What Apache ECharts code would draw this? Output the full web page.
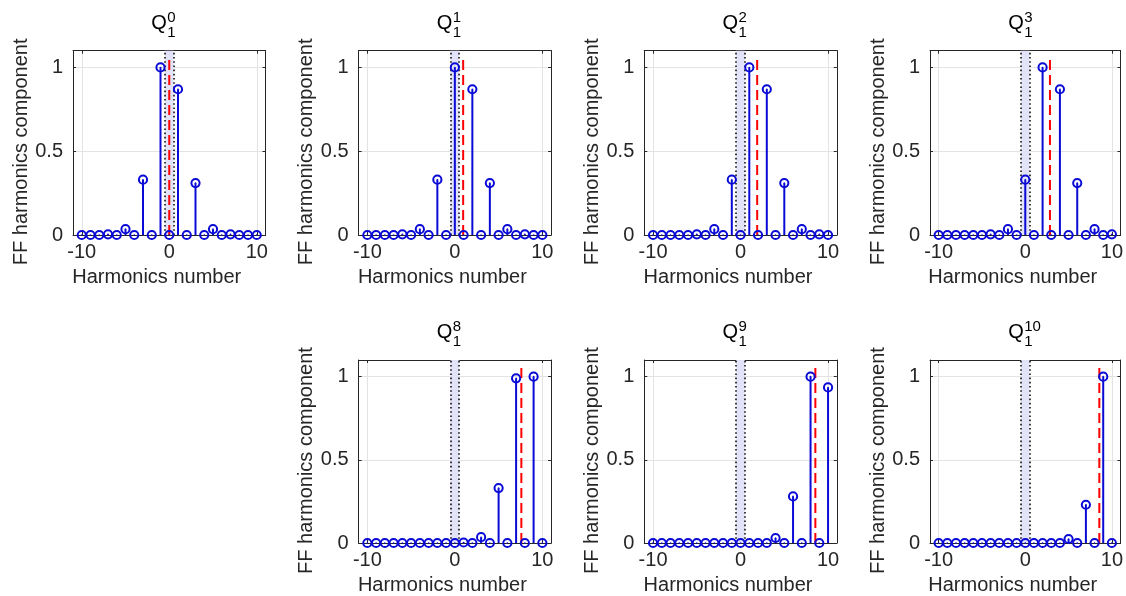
<!DOCTYPE html>
<html>
<head>
<meta charset="utf-8">
<script src="https://cdn.jsdelivr.net/npm/echarts@6/dist/echarts.min.js"></script>
<style>
html,body{margin:0;padding:0;background:#fff;}
#chart{width:1126px;height:596px;}
</style>
</head>
<body>
<div id="chart"></div>
<script>
// ---------- data ----------
const harmonics = [-10,-9,-8,-7,-6,-5,-4,-3,-2,-1,0,1,2,3,4,5,6,7,8,9,10];
const Q0  = [0,0,0,0.004,0,0.035,0,0.33,0,1.0,0,0.87,0,0.31,0,0.035,0,0.004,0,0,0];
const Q1  = [0,0,0,0,0.004,0,0.035,0,0.33,0,1.0,0,0.87,0,0.31,0,0.035,0,0.004,0,0];
const Q2  = [0,0,0,0,0,0.004,0,0.035,0,0.33,0,1.0,0,0.87,0,0.31,0,0.035,0,0.004,0];
const Q3  = [0,0,0,0,0,0,0.004,0,0.035,0,0.33,0,1.0,0,0.87,0,0.31,0,0.035,0,0.004];
const Q8  = [0,0,0,0,0,0,0,0,0,0,0,0.003,0,0.035,0,0.33,0,0.99,0,1.0,0];
const Q9  = [0,0,0,0,0,0,0,0,0,0,0,0,0,0,0.03,0,0.28,0,1.0,0,0.935];
const Q10 = [0,0,0,0,0,0,0,0,0,0,0,0,0,0,0,0.024,0,0.23,0,1.0,0];
const panelValues = [Q0, Q1, Q2, Q3, Q8, Q9, Q10];
const superscripts = ['0','1','2','3','8','9','10'];
const redLineX = [0, 0.95, 1.9, 2.85, 7.6, 8.55, 8.55];
const redLineTop = 1.06;
const bandEdges = [-0.5, 0.5];
const titleBase = 'Q';
const titleSub = '1';
const xName = 'Harmonics number';
const yName = 'FF harmonics component';

// ---------- layout ----------
const colLeft = [73, 358.6, 644.3, 930];
const rowTop = [50.7, 360];
const gridW = 192.5, gridH = 184.3;
const panelPos = [[0,0],[1,0],[2,0],[3,0],[1,1],[2,1],[3,1]];

const FONT = "'Liberation Sans', Arial, Helvetica, sans-serif";
const AX = '#262626';
const BLUE = '#0a0ad6';

const grid = [], xAxis = [], yAxis = [], series = [], graphic = [];

panelPos.forEach((pos, i) => {
  const left = colLeft[pos[0]], top = rowTop[pos[1]];
  grid.push({left: left, top: top, width: gridW, height: gridH, containLabel: false});
  const xBase = {
    gridIndex: i, type: 'value', min: -11, max: 11, splitNumber: 2,
    minInterval: 10, maxInterval: 10,
    axisLine: {show: true, onZero: false, lineStyle: {color: AX, width: 1}},
    axisTick: {show: true, inside: true, length: 3, lineStyle: {color: AX}}
  };
  xAxis.push(Object.assign({}, xBase, {
    position: 'bottom',
    axisLabel: {show: true, margin: 7, color: AX, fontSize: 20, fontFamily: FONT},
    splitLine: {show: true, lineStyle: {color: '#e3e3e3', width: 1}},
    name: xName, nameLocation: 'middle', nameGap: 32,
    nameTextStyle: {color: AX, fontSize: 20, fontFamily: FONT, padding: [0, 25, 0, 0]}
  }));
  xAxis.push(Object.assign({}, xBase, {
    position: 'top', axisLabel: {show: false}, splitLine: {show: false}
  }));
  const yBase = {
    gridIndex: i, type: 'value', min: 0, max: 1.1, interval: 0.5,
    axisLine: {show: true, onZero: false, lineStyle: {color: AX, width: 1}},
    axisTick: {show: true, inside: true, length: 3, lineStyle: {color: AX}}
  };
  yAxis.push(Object.assign({}, yBase, {
    position: 'left',
    axisLabel: {show: true, margin: 10, color: AX, fontSize: 20, fontFamily: FONT},
    splitLine: {show: true, lineStyle: {color: '#e3e3e3', width: 1}},
    name: yName, nameLocation: 'middle', nameGap: 42, nameRotate: 90,
    nameTextStyle: {color: AX, fontSize: 20, fontFamily: FONT, padding: [0, 18, 0, 0]}
  }));
  yAxis.push(Object.assign({}, yBase, {
    position: 'right', axisLabel: {show: false}, splitLine: {show: false}
  }));

  const xi = 2 * i, yi = 2 * i;
  // band + dotted edges + red dashed line
  series.push({
    type: 'line', xAxisIndex: xi, yAxisIndex: yi, silent: true, z: 2,
    data: [[redLineX[i], 0], [redLineX[i], redLineTop]],
    symbol: 'none',
    lineStyle: {color: '#ff0000', width: 2, type: [10, 5]},
    markArea: {
      silent: true,
      itemStyle: {color: '#e2e2f8'},
      data: [[{xAxis: bandEdges[0]}, {xAxis: bandEdges[1]}]]
    },
    markLine: {
      silent: true, symbol: 'none', label: {show: false},
      lineStyle: {color: '#111111', width: 1.6, type: [1.6, 2.6]},
      data: [{xAxis: bandEdges[0]}, {xAxis: bandEdges[1]}]
    }
  });
  // stems
  const vals = panelValues[i];
  series.push({
    type: 'custom', xAxisIndex: xi, yAxisIndex: yi, z: 5, clip: false,
    data: harmonics.map((n, k) => [n, vals[k]]),
    renderItem: function (params, api) {
      const x = api.value(0), y = api.value(1);
      const p0 = api.coord([x, 0]);
      const p1 = api.coord([x, y]);
      const children = [];
      if (y > 0) {
        children.push({type: 'line', shape: {x1: p0[0], y1: p0[1], x2: p1[0], y2: p1[1]},
          style: {stroke: BLUE, lineWidth: 2}});
      }
      children.push({type: 'circle', shape: {cx: p1[0], cy: p1[1], r: 4.1},
        style: {stroke: BLUE, fill: null, lineWidth: 2}});
      children.push({type: 'circle', shape: {cx: p1[0], cy: p1[1], r: 0.8},
        style: {fill: BLUE}});
      return {type: 'group', children: children};
    }
  });

  // title Q_1^k
  const cx = left + gridW / 2;
  const tOff = top - 50.7;
  graphic.push({type: 'text', x: cx - 2.5, y: 23.5 + tOff,
    style: {text: titleBase, font: '20px ' + FONT, fill: '#000', align: 'right', verticalAlign: 'middle'}});
  graphic.push({type: 'text', x: cx - 2, y: 17.5 + tOff,
    style: {text: superscripts[i], font: '15px ' + FONT, fill: '#000', align: 'left', verticalAlign: 'middle'}});
  graphic.push({type: 'text', x: cx - 2, y: 33 + tOff,
    style: {text: titleSub, font: '15px ' + FONT, fill: '#000', align: 'left', verticalAlign: 'middle'}});
});

const chart = echarts.init(document.getElementById('chart'), null, {renderer: 'canvas'});
chart.setOption({
  animation: false,
  backgroundColor: '#ffffff',
  textStyle: {fontFamily: FONT},
  grid: grid, xAxis: xAxis, yAxis: yAxis, series: series, graphic: graphic
});
</script>
</body>
</html>
